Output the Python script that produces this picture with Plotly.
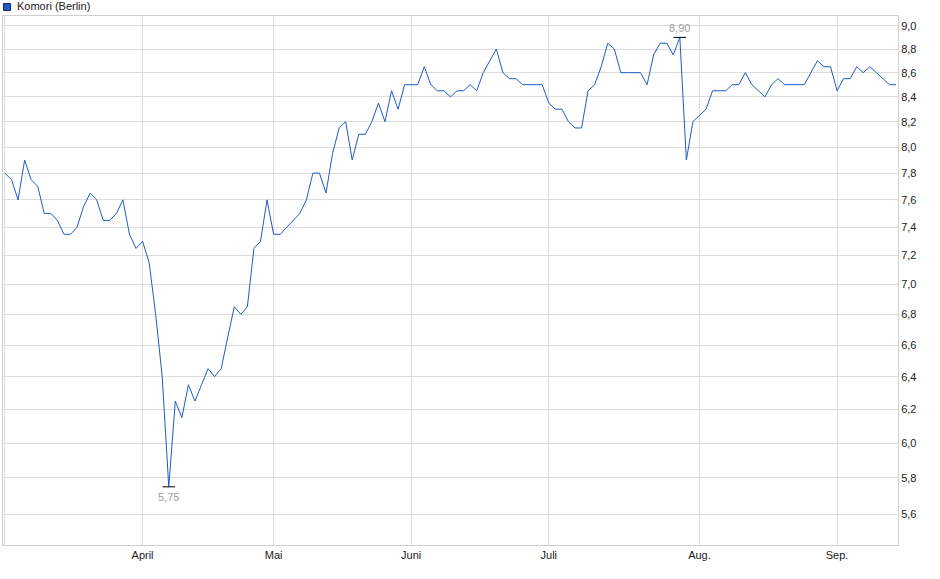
import numpy as np
import pandas as pd
import plotly.graph_objects as go

series_name = "Komori (Berlin)"

# trading days (Berlin), March 3 - Sep 12, 2025
holidays = ["2025-04-18", "2025-04-21", "2025-05-01"]
trading_days = [d.strftime("%Y-%m-%d") for d in pd.bdate_range("2025-03-03", "2025-09-12")
                if d.strftime("%Y-%m-%d") not in holidays]

prices = [
    7.80, 7.75, 7.60, 7.90, 7.75, 7.70, 7.50, 7.50, 7.45, 7.35,
    7.35, 7.40, 7.55, 7.65, 7.60, 7.45, 7.45, 7.50, 7.60, 7.35,
    7.25, 7.30, 7.15, 6.80, 6.40, 5.75, 6.25, 6.15, 6.35, 6.25,
    6.35, 6.45, 6.40, 6.45, 6.65, 6.85, 6.80, 6.85, 7.25, 7.30,
    7.60, 7.35, 7.35, 7.40, 7.45, 7.50, 7.60, 7.80, 7.80, 7.65,
    7.95, 8.15, 8.20, 7.90, 8.10, 8.10, 8.20, 8.35, 8.20, 8.45,
    8.30, 8.50, 8.50, 8.50, 8.65, 8.50, 8.45, 8.45, 8.40, 8.45,
    8.45, 8.50, 8.45, 8.60, 8.70, 8.80, 8.60, 8.55, 8.55, 8.50,
    8.50, 8.50, 8.50, 8.35, 8.30, 8.30, 8.20, 8.15, 8.15, 8.45,
    8.50, 8.65, 8.85, 8.80, 8.60, 8.60, 8.60, 8.60, 8.50, 8.75,
    8.85, 8.85, 8.75, 8.90, 7.90, 8.20, 8.25, 8.30, 8.45, 8.45,
    8.45, 8.50, 8.50, 8.60, 8.50, 8.45, 8.40, 8.50, 8.55, 8.50,
    8.50, 8.50, 8.50, 8.60, 8.70, 8.65, 8.65, 8.45, 8.55, 8.55,
    8.65, 8.60, 8.65, 8.60, 8.55, 8.50, 8.50,
]

month_labels = {3: "", 4: "April", 5: "Mai", 6: "Juni", 7: "Juli", 8: "Aug.", 9: "Sep."}
y_ticks = [5.6, 5.8, 6.0, 6.2, 6.4, 6.6, 6.8, 7.0, 7.2, 7.4, 7.6, 7.8, 8.0, 8.2, 8.4, 8.6, 8.8, 9.0]
y_tick_labels = [f"{v:.1f}".replace(".", ",") for v in y_ticks]

# first trading day of each month -> vertical gridlines
tick_dates, tick_text, seen = [], [], set()
for d in trading_days:
    m = int(d[5:7])
    if m not in seen:
        seen.add(m)
        tick_dates.append(d)
        tick_text.append(month_labels[m])

LINE = "#1f5bc6"
GRID = "#dcdcdc"
FONT = "Liberation Sans, Arial, sans-serif"

fig = go.Figure()
fig.add_trace(go.Scatter(x=trading_days, y=prices, mode="lines",
                         line=dict(color=LINE, width=1), name=series_name,
                         showlegend=False))

imax = int(np.argmax(prices))
imin = int(np.argmin(prices))
fig.add_trace(go.Scatter(x=[trading_days[imax], trading_days[imin]],
                         y=[prices[imax], prices[imin]], mode="markers",
                         marker=dict(symbol="line-ew", size=9, color="black",
                                     line=dict(color="black", width=1)),
                         showlegend=False, hoverinfo="skip"))

W, H = 940, 579
ml, mr, mt, mb = 3, 42, 16, 34
pw, ph = W - ml - mr, H - mt - mb

annotations = [
    dict(x=trading_days[imax], y=np.log10(prices[imax]), xref="x", yref="y",
         text=f"{prices[imax]:.2f}".replace(".", ","), showarrow=False,
         yshift=9, font=dict(size=11, color="#a0a0a0", family=FONT)),
    dict(x=trading_days[imin], y=np.log10(prices[imin]), xref="x", yref="y",
         text=f"{prices[imin]:.2f}".replace(".", ","), showarrow=False,
         yshift=-10, font=dict(size=11, color="#a0a0a0", family=FONT)),
    dict(x=(15 - ml) / pw, y=1 + (mt - 6.5) / ph, xref="paper", yref="paper",
         text=series_name, showarrow=False, xanchor="left", yanchor="middle",
         font=dict(size=11, color="#222222", family=FONT)),
]
shapes = [
    dict(type="rect", xref="paper", yref="paper",
         x0=(3.5 - ml) / pw, x1=(10.5 - ml) / pw,
         y0=1 + (mt - 10.5) / ph, y1=1 + (mt - 3.5) / ph,
         fillcolor=LINE, line=dict(color="#1a2a55", width=1)),
]

fig.update_layout(
    width=W, height=H,
    margin=dict(l=ml, r=mr, t=mt, b=mb),
    paper_bgcolor="white", plot_bgcolor="white",
    font=dict(family=FONT, size=11, color="#222222"),
    annotations=annotations, shapes=shapes,
    showlegend=False,
    xaxis=dict(type="category", range=[-0.3, len(trading_days) - 0.7],
               tickvals=tick_dates, ticktext=tick_text, ticks="",
               showgrid=True, gridcolor=GRID, gridwidth=1,
               showline=True, linecolor="#d0d0d0", linewidth=1, mirror=True,
               zeroline=False, tickfont=dict(size=11, color="#222222")),
    yaxis=dict(type="log", side="right",
               range=[np.log10(5.434), np.log10(9.087)],
               tickvals=y_ticks, ticktext=y_tick_labels, ticks="",
               showgrid=True, gridcolor=GRID, gridwidth=1,
               showline=True, linecolor="#d0d0d0", linewidth=1, mirror=True,
               zeroline=False, tickfont=dict(size=11, color="#222222")),
)

fig.write_html("out.html",
               config={"displayModeBar": False},
               post_script="document.body.style.margin='0';document.body.style.overflow='hidden';")
